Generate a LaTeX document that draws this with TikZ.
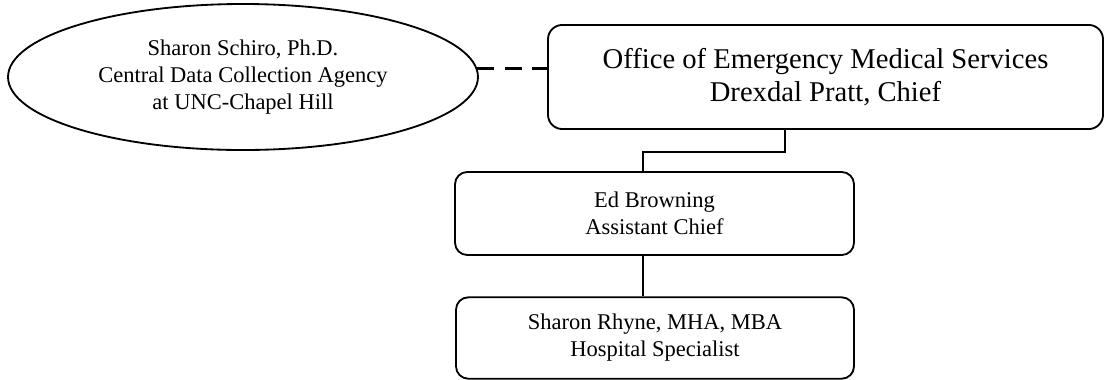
\documentclass[tikz,border=0pt]{standalone}
\usepackage{fontspec}
\setmainfont{Liberation Serif}
\usetikzlibrary{shapes.geometric,calc}
\begin{document}
\begin{tikzpicture}[x={(0.489pt,0)},y={(0,-0.489pt)},
  smalltext/.style={font=\fontsize{11}{13.2}\selectfont, align=center},
  bigtext/.style={font=\fontsize{14}{16.2}\selectfont, align=center},
  orgbox/.style={draw, line width=0.9pt, rounded corners=6pt, inner sep=0pt},
  orgellipse/.style={draw, line width=0.9pt, ellipse, inner sep=0pt},
  link/.style={line width=0.7pt},
  dashlink/.style={line width=1.6pt, dash pattern=on 8.3pt off 5pt}]
\useasboundingbox (0,0) rectangle (1104,379);
\node[orgellipse, smalltext, minimum width=229.8pt, minimum height=71.4pt] (e) at (243,77)
  {Sharon Schiro, Ph.D.\\Central Data Collection Agency\\at UNC-Chapel Hill};
\node[orgbox, bigtext, minimum width=271.4pt, minimum height=50.9pt, rounded corners=7pt] (top) at (825.5,77)
  {Office of Emergency Medical Services\\Drexdal Pratt, Chief};
\node[orgbox, smalltext, minimum width=195.1pt, minimum height=40.6pt] (ed) at (654.5,213.5)
  {Ed Browning\\Assistant Chief};
\node[orgbox, smalltext, minimum width=194.6pt, minimum height=39.8pt] (sh) at (655,338)
  {Sharon Rhyne, MHA, MBA\\Hospital Specialist};
\draw[dashlink] (e.2.2) -- (e.2.2 -| top.west);
\draw[link] ([xshift=-19.8pt]top.south) -- ++(0,22) -| ([xshift=-5.6pt]ed.north);
\draw[link] ([xshift=-5.6pt]ed.south) -- ([xshift=-5.6pt]ed.south |- sh.north);
\end{tikzpicture}
\end{document}
